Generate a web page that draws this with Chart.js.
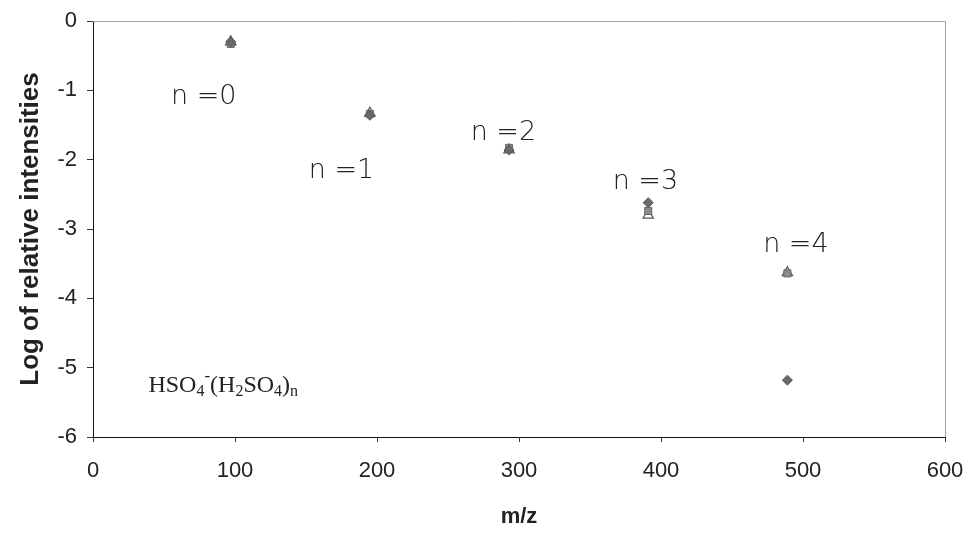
<!DOCTYPE html>
<html>
<head>
<meta charset="utf-8">
<script src="https://cdn.jsdelivr.net/npm/chart.js@4/dist/chart.umd.min.js"></script>
<style>
  html, body { margin: 0; padding: 0; background: #fff; }
  #wrap { width: 971px; height: 533px; }
</style>
</head>
<body>
<div id="wrap"><canvas id="c" width="971" height="533"></canvas></div>
<script>
// Cluster masses HSO4-(H2SO4)n for n = 0..4
const massToCharge = [97, 195, 293, 391, 489];
const clusterLabels = ['n =0', 'n =1', 'n =2', 'n =3', 'n =4'];

// Log of relative intensities, three measurement sets
const seriesDiamond  = [-0.30, -1.36, -1.86, -2.62, -5.18];
const seriesSquare   = [-0.33, -1.34, -1.83, -2.74, -3.64];
const seriesTriangle = [-0.30, -1.33, -1.86, -2.80, -3.63];

// Label anchor points (m/z, log intensity)
const labelX = [78, 175, 289, 389, 495];
const labelY = [-1.10, -2.16, -1.62, -2.32, -3.23];

const xTicks = [0, 100, 200, 300, 400, 500, 600];
const yTicks = [0, -1, -2, -3, -4, -5, -6];

const toPoints = vals => vals.map((v, i) => ({ x: massToCharge[i], y: v }));

const tickFont = '"Liberation Sans", Arial, sans-serif';

const annotations = {
  id: 'annotations',
  afterDatasetsDraw(chart) {
    const { ctx, scales: { x, y }, chartArea: a } = chart;
    ctx.save();
    // light frame on top and right
    ctx.strokeStyle = '#a0a0a0';
    ctx.lineWidth = 1;
    ctx.beginPath();
    ctx.moveTo(a.left, a.top + 0.5);
    ctx.lineTo(a.right + 0.5, a.top + 0.5);
    ctx.lineTo(a.right + 0.5, a.bottom);
    ctx.stroke();

    // cluster labels
    ctx.fillStyle = '#222';
    ctx.font = '300 27px "DejaVu Sans", sans-serif';
    ctx.textAlign = 'center';
    ctx.textBaseline = 'middle';
    clusterLabels.forEach((t, i) => {
      ctx.fillText(t, x.getPixelForValue(labelX[i]), y.getPixelForValue(labelY[i]));
    });

    // formula HSO4-(H2SO4)n
    const base = y.getPixelForValue(-5.35);
    let px = x.getPixelForValue(39);
    ctx.textAlign = 'left';
    ctx.textBaseline = 'alphabetic';
    const parts = [
      ['HSO', 0, 24], ['4', 4, 16], ['-', -11, 17], ['(H', 0, 24], ['2', 4, 16],
      ['SO', 0, 24], ['4', 4, 16], [')', 0, 24], ['n', 4, 16]
    ];
    parts.forEach(([t, dy, size]) => {
      ctx.font = size + 'px "Liberation Serif", serif';
      ctx.fillText(t, px, base + dy);
      px += ctx.measureText(t).width;
    });
    ctx.restore();
  }
};

new Chart(document.getElementById('c'), {
  type: 'scatter',
  data: {
    datasets: [
      { label: 'diamond', data: toPoints(seriesDiamond), pointStyle: 'rectRot',
        pointRadius: 5, backgroundColor: '#6a6a6a', borderColor: '#555', borderWidth: 1 },
      { label: 'square', data: toPoints(seriesSquare), pointStyle: 'rect',
        pointRadius: 5, backgroundColor: '#8a8a8a', borderColor: '#666', borderWidth: 1 },
      { label: 'triangle', data: toPoints(seriesTriangle), pointStyle: 'triangle',
        pointRadius: 6, backgroundColor: 'rgba(255,255,255,0.6)', borderColor: '#555', borderWidth: 1.2 }
    ]
  },
  options: {
    responsive: false,
    animation: false,
    layout: { padding: { top: 21, right: 26, left: 0, bottom: 0 } },
    plugins: { legend: { display: false }, tooltip: { enabled: false } },
    scales: {
      x: {
        type: 'linear', min: 0, max: 600,
        afterBuildTicks: s => { s.ticks = xTicks.map(v => ({ value: v })); },
        afterFit: s => { s.height = 96; s.paddingRight = 0; s.paddingLeft = 0; },
        grid: { display: true, drawOnChartArea: false, color: '#333', tickLength: 5 },
        border: { display: true, color: '#111', width: 1 },
        ticks: { color: '#222', padding: 16, maxRotation: 0,
                 font: { family: tickFont, size: 22 } },
        title: { display: true, text: 'm/z', color: '#222', padding: { top: 0, bottom: 3 },
                 font: { family: '"Liberation Sans", Arial, sans-serif', size: 22, weight: 'bold' } }
      },
      y: {
        type: 'linear', min: -6, max: 0,
        afterBuildTicks: s => { s.ticks = yTicks.map(v => ({ value: v })); },
        afterFit: s => { s.width = 93; s.paddingTop = 0; s.paddingBottom = 0; },
        grid: { display: true, drawOnChartArea: false, color: '#333', tickLength: 6 },
        border: { display: true, color: '#111', width: 1 },
        ticks: { color: '#222', padding: 10,
                 font: { family: tickFont, size: 22 } },
        title: { display: true, text: 'Log of relative intensities', color: '#222',
                 padding: { top: 15, bottom: 0 },
                 font: { family: '"Liberation Sans", Arial, sans-serif', size: 26, weight: 'bold' } }
      }
    }
  },
  plugins: [annotations]
});
</script>
</body>
</html>
